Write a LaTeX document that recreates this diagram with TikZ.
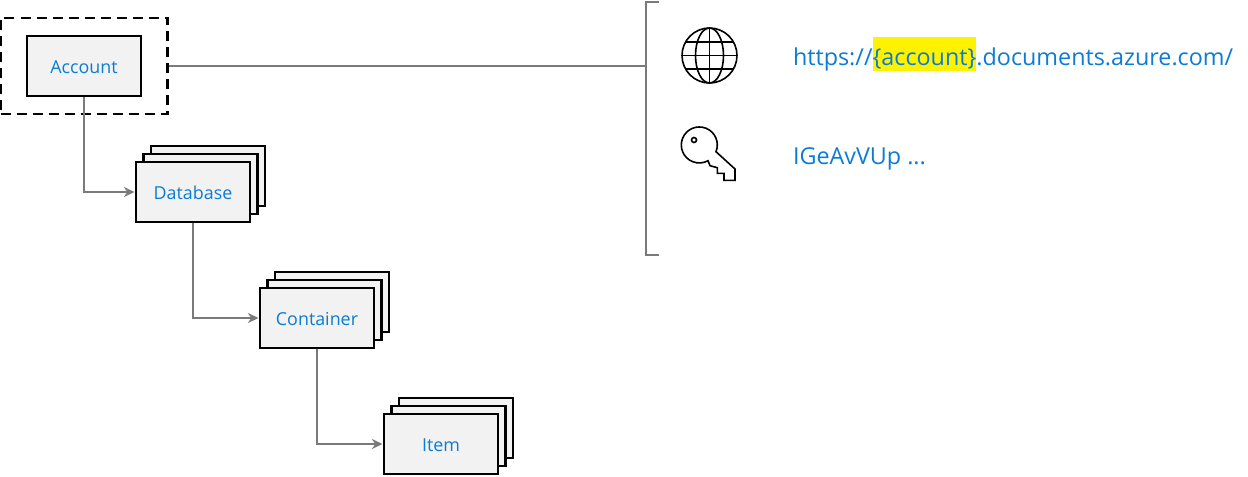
\documentclass[tikz,border=0pt]{standalone}
\usepackage{fontspec}
\setmainfont{Open Sans}
\usepackage{xcolor}
\definecolor{azuretext}{HTML}{0A7CD6}
\definecolor{cardfill}{HTML}{F2F2F2}
\definecolor{linkgray}{HTML}{7A7A7A}
\usetikzlibrary{arrows.meta,positioning}
\tikzset{
	cardbox/.style={draw=black, fill=cardfill, line width=2.2pt, minimum width=85.5pt, minimum height=45pt, inner sep=0pt, text=azuretext, font=\fontsize{13.4}{15}\selectfont, text height=12pt},
	urlpart/.style={inner sep=0pt, outer sep=0pt, text=azuretext, font=\fontsize{17.5}{20}\selectfont, text height=21pt, text depth=4.5pt},
	linkline/.style={draw=linkgray, line width=2.2pt},
	iconline/.style={draw=black, line width=1.2pt}
}

\begin{document}
\begin{tikzpicture}[>=Stealth, x=0.75pt, y=0.75pt]
		\useasboundingbox (0,0) rectangle (1248,-476);

		\node[draw=black, line width=2.2pt, dash pattern=on 7.5pt off 4.5pt, minimum width=125.25pt, minimum height=72pt, inner sep=0pt] (accountscope) at (84,-66) {};
		\node[cardbox] (account) at (84,-66) {Account};

		\foreach \n/\t/\cx/\cy in {database/Database/193/192, container/Container/317/318, item/Item/441/444} {
			\foreach \d in {2,1} {
				\node[cardbox] (\n back\d) at ({\cx+7.5*\d},{-\cy+8*\d}) {};
			}
			\node[cardbox] (\n) at (\cx,-\cy) {\t};
		}

		\coordinate (bracketmid) at (646,-66);
		\draw[linkline] (659,-2) -- (646,-2) -- (646,-255) -- (659,-255);
		\draw[linkline] (accountscope.east) -- (bracketmid);

		\draw[linkline, -{Stealth[length=8pt,width=7.5pt]}] (account.south) |- (database.west);
		\draw[linkline, -{Stealth[length=8pt,width=7.5pt]}] (database.south) |- (container.west);
		\draw[linkline, -{Stealth[length=8pt,width=7.5pt]}] (container.south) |- (item.west);

		% globe
		\draw[iconline] (709.5,-55.5) circle (27.5);
		\draw[iconline] (709.5,-55.5) ellipse (14 and 27.5);
		\draw[iconline] (709.5,-28) -- (709.5,-83);
		\draw[iconline] (682,-55.5) -- (737,-55.5);
		\draw[iconline] (686,-42) -- (733,-42);
		\draw[iconline] (686,-69) -- (733,-69);

		% key
		\draw[iconline, line join=miter] (716,-151.7) arc (-22:299:18) -- (710,-165.7) -- (717.3,-167.7) -- (717.3,-173.3) -- (724,-173.3) -- (724,-180.3) -- (735,-180.3) -- (735,-169) -- cycle;
		\draw[iconline] (694,-140) circle (2.5);

		% address
		\node[urlpart, anchor=base west] (urlhead) at (793,-65) {https://};
		\node[urlpart, fill=yellow, anchor=base west] (urlaccount) at (urlhead.base east) {\{account\}};
		\node[urlpart, anchor=base west] (urltail) at (urlaccount.base east) {.documents.azure.com/};
		\node[urlpart, anchor=base west] (keytext) at (793,-164) {IGeAvVUp ...};
\end{tikzpicture}
\end{document}
